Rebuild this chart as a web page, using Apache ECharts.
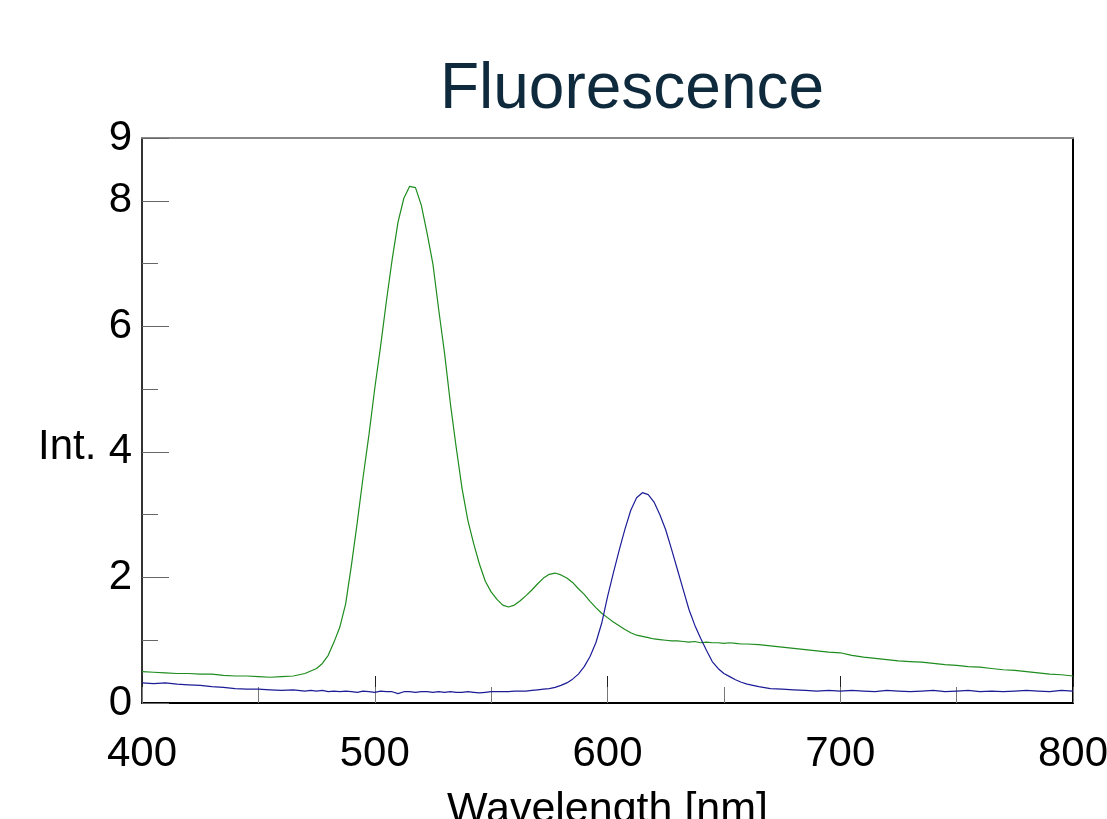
<!DOCTYPE html>
<html>
<head>
<meta charset="utf-8">
<title>Fluorescence</title>
<script src="https://cdn.jsdelivr.net/npm/echarts@6/dist/echarts.min.js"></script>
<style>
    html, body { margin: 0; padding: 0; background: #fff; }
    #main { width: 1107px; height: 819px; }
</style>
</head>
<body>
<div id="main"></div>
<script>
// wavelength [nm]
var wavelength = [
    400, 405, 410, 415, 420, 425, 430, 435, 440, 445, 450, 455, 460, 465, 470,
    472.5, 475, 477.5, 480, 482.5, 485, 487.5, 490, 492.5, 495, 497.5, 500,
    502.5, 505, 507.5, 510, 512.5, 515, 517.5, 520, 522.5, 525, 527.5, 530,
    532.5, 535, 537.5, 540, 542.5, 545, 547.5, 550, 552.5, 555, 557.5, 560,
    562.5, 565, 567.5, 570, 572.5, 575, 577.5, 580, 582.5, 585, 587.5, 590,
    592.5, 595, 597.5, 600, 602.5, 605, 607.5, 610, 612.5, 615, 617.5, 620,
    622.5, 625, 627.5, 630, 632.5, 635, 637.5, 640, 642.5, 645, 647.5, 650,
    652.5, 655, 657.5, 660,
    665, 670, 675, 680, 685, 690, 695, 700, 705, 710, 715, 720, 725, 730, 735,
    740, 745, 750, 755, 760, 765, 770, 775, 780, 785, 790, 795, 800
];
// green trace
var greenInt = [
    0.50, 0.49, 0.48, 0.47, 0.47, 0.46, 0.46, 0.44, 0.43, 0.43, 0.42, 0.41, 0.42, 0.43, 0.47,
    0.51, 0.55, 0.63, 0.76, 0.97, 1.21, 1.58, 2.20, 2.88, 3.60, 4.27, 5.01,
    5.68, 6.40, 7.07, 7.66, 8.04, 8.23, 8.21, 7.93, 7.48, 6.99, 6.26, 5.57,
    4.77, 4.07, 3.42, 2.91, 2.54, 2.21, 1.94, 1.77, 1.65, 1.56, 1.53, 1.56,
    1.63, 1.71, 1.80, 1.90, 1.99, 2.05, 2.07, 2.04, 1.99, 1.92, 1.82, 1.73,
    1.62, 1.52, 1.43, 1.36, 1.29, 1.23, 1.17, 1.12, 1.08, 1.06, 1.04, 1.02,
    1.01, 1.00, 0.99, 0.99, 0.98, 0.97, 0.98, 0.96, 0.97, 0.96, 0.96, 0.95,
    0.96, 0.95, 0.94, 0.94,
    0.93, 0.91, 0.89, 0.87, 0.85, 0.83, 0.81, 0.80, 0.76, 0.73, 0.71, 0.69, 0.67, 0.66, 0.65,
    0.63, 0.61, 0.60, 0.58, 0.57, 0.55, 0.53, 0.52, 0.50, 0.48, 0.46, 0.45, 0.43
];
// blue trace
var blueInt = [
    0.32, 0.31, 0.32, 0.30, 0.29, 0.28, 0.26, 0.25, 0.23, 0.22, 0.22, 0.21, 0.20, 0.21, 0.19,
    0.20, 0.19, 0.20, 0.18, 0.19, 0.18, 0.19, 0.18, 0.17, 0.19, 0.18, 0.17,
    0.19, 0.18, 0.18, 0.15, 0.18, 0.18, 0.17, 0.18, 0.18, 0.17, 0.18, 0.17,
    0.18, 0.17, 0.17, 0.18, 0.17, 0.16, 0.17, 0.18, 0.18, 0.18, 0.18, 0.19,
    0.19, 0.19, 0.20, 0.21, 0.22, 0.23, 0.25, 0.28, 0.32, 0.38, 0.46, 0.58,
    0.74, 0.96, 1.27, 1.69, 2.07, 2.43, 2.77, 3.07, 3.27, 3.35, 3.32, 3.20,
    3.00, 2.76, 2.45, 2.13, 1.81, 1.49, 1.24, 1.03, 0.84, 0.66, 0.55, 0.47,
    0.42, 0.37, 0.33, 0.30,
    0.26, 0.23, 0.22, 0.21, 0.20, 0.19, 0.20, 0.19, 0.20, 0.19, 0.18, 0.20, 0.19, 0.18, 0.19,
    0.20, 0.18, 0.19, 0.20, 0.18, 0.19, 0.18, 0.19, 0.20, 0.19, 0.18, 0.20, 0.19
];
var xTicks = { min: 400, max: 800, major: 100, minor: 50 };
var yTicks = { min: 0, max: 9, major: 2, minor: 1 };

var font = "'Liberation Sans', Arial, sans-serif";

function pairs(xs, ys) {
    var out = [];
    xs.forEach(function (x, i) {
        out.push([x, ys[i]]);
    });
    return out;
}

var myChart = echarts.init(document.getElementById('main'));
var option = {
    animation: false,
    backgroundColor: '#ffffff',
    grid: {
        left: 142,
        right: 34,
        top: 138,
        bottom: 116,
        containLabel: false,
        outerBoundsMode: 'none'
    },
    graphic: [{
        type: 'text',
        x: 632,
        y: 90,
        style: {
            text: 'Fluorescence',
            font: '64px ' + font,
            fill: '#0e2a3c',
            textAlign: 'center',
            textVerticalAlign: 'middle'
        }
    }, {
        type: 'text',
        x: 38,
        y: 447,
        style: {
            text: 'Int.',
            font: '42px ' + font,
            fill: '#000000',
            textAlign: 'left',
            textVerticalAlign: 'middle'
        }
    }],
    xAxis: [{
        type: 'value',
        position: 'bottom',
        min: xTicks.min,
        max: xTicks.max,
        interval: xTicks.major,
        name: 'Wavelength [nm]',
        nameLocation: 'middle',
        nameGap: 86,
        nameTextStyle: { color: '#000', fontSize: 43, fontFamily: font },
        axisLine: { onZero: false, lineStyle: { color: '#000', width: 2 } },
        axisTick: { inside: true, length: 27, lineStyle: { color: '#222', width: 1 } },
        axisLabel: { color: '#000', fontSize: 42, fontFamily: font, margin: 30, showMinLabel: true, showMaxLabel: true },
        splitLine: { show: false }
    }, {
        type: 'value',
        position: 'bottom',
        min: xTicks.min,
        max: xTicks.max,
        interval: xTicks.minor,
        axisLine: { show: false, onZero: false },
        axisTick: { inside: true, length: 16, lineStyle: { color: '#777', width: 1 } },
        axisLabel: { show: false },
        splitLine: { show: false }
    }, {
        type: 'value',
        position: 'top',
        min: xTicks.min,
        max: xTicks.max,
        axisLine: { onZero: false, lineStyle: { color: '#888', width: 2 } },
        axisTick: { show: false },
        axisLabel: { show: false },
        splitLine: { show: false }
    }],
    yAxis: [{
        type: 'value',
        position: 'left',
        min: yTicks.min,
        max: yTicks.max,
        interval: yTicks.major,
        axisLine: { show: true, onZero: false, lineStyle: { color: '#333', width: 2 } },
        axisTick: { show: true, inside: true, length: 27, lineStyle: { color: '#666', width: 1 } },
        axisLabel: { color: '#000', fontSize: 42, fontFamily: font, margin: 10, showMinLabel: true, showMaxLabel: true },
        splitLine: { show: false }
    }, {
        type: 'value',
        position: 'left',
        min: yTicks.min,
        max: yTicks.max,
        interval: yTicks.minor,
        axisLine: { show: false },
        axisTick: { show: true, inside: true, length: 16, lineStyle: { color: '#666', width: 1 } },
        axisLabel: { show: false },
        splitLine: { show: false }
    }, {
        type: 'value',
        position: 'right',
        min: yTicks.min,
        max: yTicks.max,
        axisLine: { show: true, onZero: false, lineStyle: { color: '#000', width: 2 } },
        axisTick: { show: false },
        axisLabel: { show: false },
        splitLine: { show: false }
    }],
    series: [{
        name: 'green',
        type: 'line',
        xAxisIndex: 0,
        yAxisIndex: 0,
        data: pairs(wavelength, greenInt),
        showSymbol: false,
        symbol: 'none',
        lineStyle: { color: '#1e8c1e', width: 1.2 }
    }, {
        name: 'blue',
        type: 'line',
        xAxisIndex: 0,
        yAxisIndex: 0,
        data: pairs(wavelength, blueInt),
        showSymbol: false,
        symbol: 'none',
        lineStyle: { color: '#1c1c96', width: 1.2 }
    }]
};
myChart.setOption(option);
</script>
</body>
</html>
